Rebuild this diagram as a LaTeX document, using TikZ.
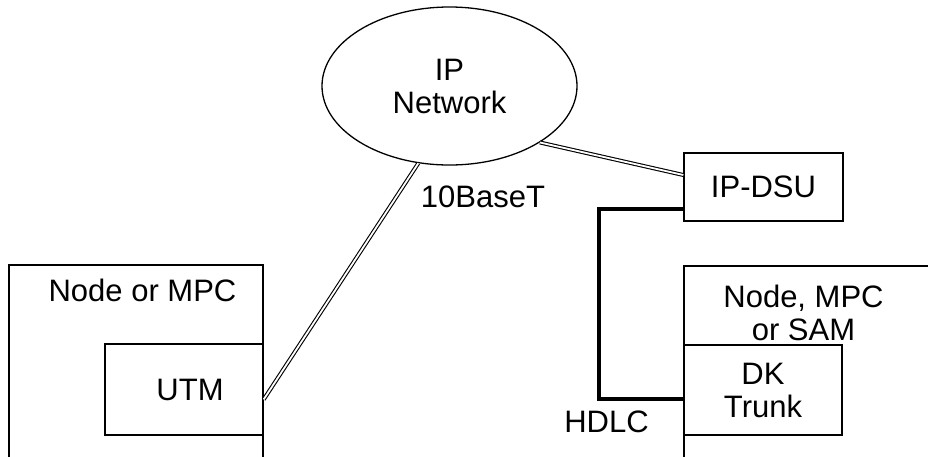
\documentclass[tikz,border=0pt]{standalone}
\usepackage{fontspec}
\setmainfont{Liberation Sans}
\usetikzlibrary{shapes.geometric}
\begin{document}
\begin{tikzpicture}[x=1pt, y=-1pt, line width=1.3pt,
		font=\fontsize{31}{33}\selectfont,
		box/.style = {draw, rectangle, inner sep=0pt, align=center},
		network/.style = {draw, ellipse, inner sep=0pt, minimum width=255pt, minimum height=158pt, align=center},
		link/.style = {line width=1.1pt, double, double distance=1.8pt},
		hdlc/.style = {line width=4.2pt}]
			\useasboundingbox (0,0) rectangle (928,456);
			\node[network] (net) at (449.5,86) {IP\\Network};
			\node[box, minimum width=159pt, minimum height=68pt] (dsu) at (763.5,187) {IP-DSU};
			\draw (9,460) |- (263,265) -- (263,460);
			\node (leftlabel) at (142.5,290) {Node or MPC};
			\node[box, minimum width=158pt, minimum height=91pt] (utm) at (184,389.5) {\hspace{12pt}UTM};
			\draw (684,460) |- (932,266);
			\node[align=center] (rightlabel) at (803.5,312.5) {Node, MPC\\or SAM};
			\node[box, minimum width=158pt, minimum height=90pt] (trunk) at (763,390) {DK\\Trunk};
			\node (base) at (483,197) {10BaseT};
			\node (hdlclabel) at (606.5,422) {HDLC};

			\draw[link] (net.248) to ([yshift=-10pt]utm.east);
			\draw[link] (net.328) to ([yshift=12pt]dsu.west);
			\draw[hdlc] ([yshift=-22pt]dsu.west) -- ++(-84,0) |- ([yshift=-9pt]trunk.west);
		\end{tikzpicture}
\end{document}
